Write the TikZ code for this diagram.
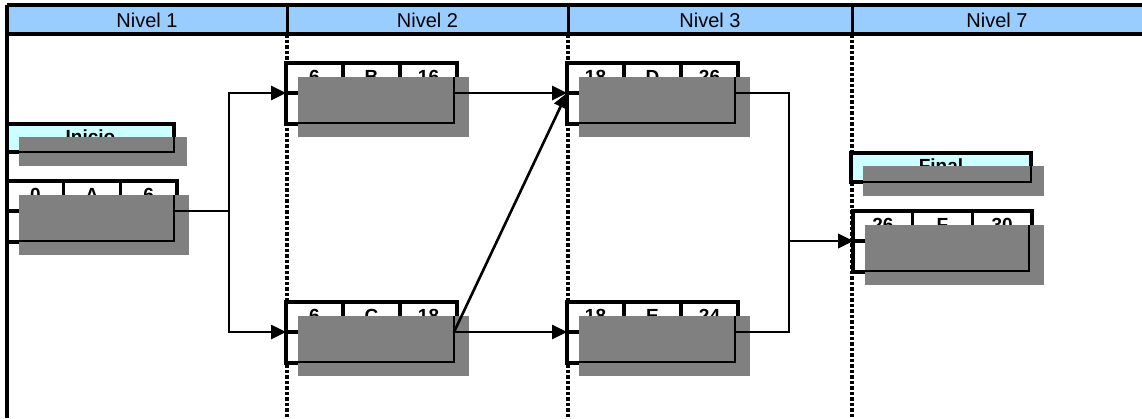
\documentclass[tikz,border=0pt]{standalone}
\usepackage{fontspec}
\setmainfont{Liberation Sans}
\usetikzlibrary{arrows.meta}
\definecolor{hdr}{HTML}{99CCFF}
\definecolor{cyanbox}{HTML}{CCFFFF}
\definecolor{shadowgray}{HTML}{808080}
\tikzset{
  conn/.style={line width=2.6pt},
  arr/.style={conn,-{Triangle[length=15pt,width=14pt]}},
  hdrtext/.style={font=\fontsize{20}{20}\selectfont, inner sep=0pt},
  celltext/.style={font=\bfseries\fontsize{19}{19}\selectfont, inner sep=0pt},
  thickline/.style={line width=4.5pt},
  divline/.style={line width=3.5pt},
  thinline/.style={line width=1.8pt},
  levelsep/.style={line width=4pt, dash pattern=on 3.5pt off 2pt},
}
% name, x, y, width, a, b, c
\newcommand\pertbox[7]{%
 \begin{scope}[shift={(#2,#3)}]
   \fill[white] (0,0) rectangle (#4,61);
   \draw[divline] ({#4/3},0) -- ({#4/3},30) ({2*#4/3},0) -- ({2*#4/3},30) (0,30) -- (#4,30);
   \draw[thickline] (0,0) rectangle (#4,61);
   \node[celltext] (#1-a) at ({#4/6},13.5) {#5};
   \node[celltext] (#1-b) at ({#4/2},13.5) {#6};
   \node[celltext] (#1-c) at ({5*#4/6},13.5) {#7};
   \fill[shadowgray] (12,14) rectangle ({#4+12},74);
   \draw[thinline] (12,60) -- ({#4-3},60) -- ({#4-3},14);
   \coordinate (#1-in) at (0,30);
   \coordinate (#1-out) at ({#4-3},30);
 \end{scope}}
% name, x, y, width, height, text
\newcommand\labelbox[6]{%
 \begin{scope}[shift={(#2,#3)}]
   \fill[cyanbox] (0,0) rectangle (#4,#5);
   \draw[divline] (0,0) rectangle (#4,#5);
   \draw[thickline] (0,0) -- (#4,0);
   \node[celltext] (#1) at ({#4/2},13) {#6};
   \fill[shadowgray] (12,13) rectangle ({#4+13},{#5+14});
   \draw[thinline] (12,#5) -- (#4,#5) -- (#4,13);
 \end{scope}}
\begin{document}
\begin{tikzpicture}[x=1pt,y=-1pt]
\useasboundingbox (0,0) rectangle (1142,418);
% header
\fill[hdr] (7,5) rectangle (1142,34);
\draw[line width=3.5pt] (7,5) -- (1142,5) (7,34) -- (1142,34);
\draw[line width=3pt] (287,5) -- (287,34) (568,5) -- (568,34) (852,5) -- (852,34);
\node[hdrtext] (n1) at (147,20) {Nivel 1};
\node[hdrtext] (n2) at (427.5,20) {Nivel 2};
\node[hdrtext] (n3) at (710,20) {Nivel 3};
\node[hdrtext] (n7) at (997,20) {Nivel 7};
% level borders
\draw[line width=3.5pt] (7,5) -- (7,418);
\draw[levelsep] (287,34) -- (287,418);
\draw[levelsep] (568,34) -- (568,418);
\draw[levelsep] (852,34) -- (852,418);
% boxes
\labelbox{inicio}{7}{124}{167}{28}{Inicio}
\labelbox{final}{851}{153}{180}{29}{Final}
\pertbox{A}{7}{181}{170}{0}{A}{6}
\pertbox{B}{286}{63}{171}{6}{B}{16}
\pertbox{C}{286}{302}{171}{6}{C}{18}
\pertbox{D}{567}{63}{171}{18}{D}{26}
\pertbox{E}{567}{302}{171}{18}{E}{24}
\pertbox{F}{853}{211}{179}{26}{F}{30}
% connectors
\draw[arr] (A-out) -- ++(55,0) |- (B-in);
\draw[arr] (A-out) -- ++(55,0) |- (C-in);
\draw[arr] (B-out) -- (D-in);
\draw[arr] (C-out) -- (D-in);
\draw[arr] (C-out) -- (E-in);
\draw[arr] (D-out) -- ++(54,0) |- (F-in);
\draw[arr] (E-out) -- ++(54,0) |- (F-in);
\end{tikzpicture}
\end{document}
